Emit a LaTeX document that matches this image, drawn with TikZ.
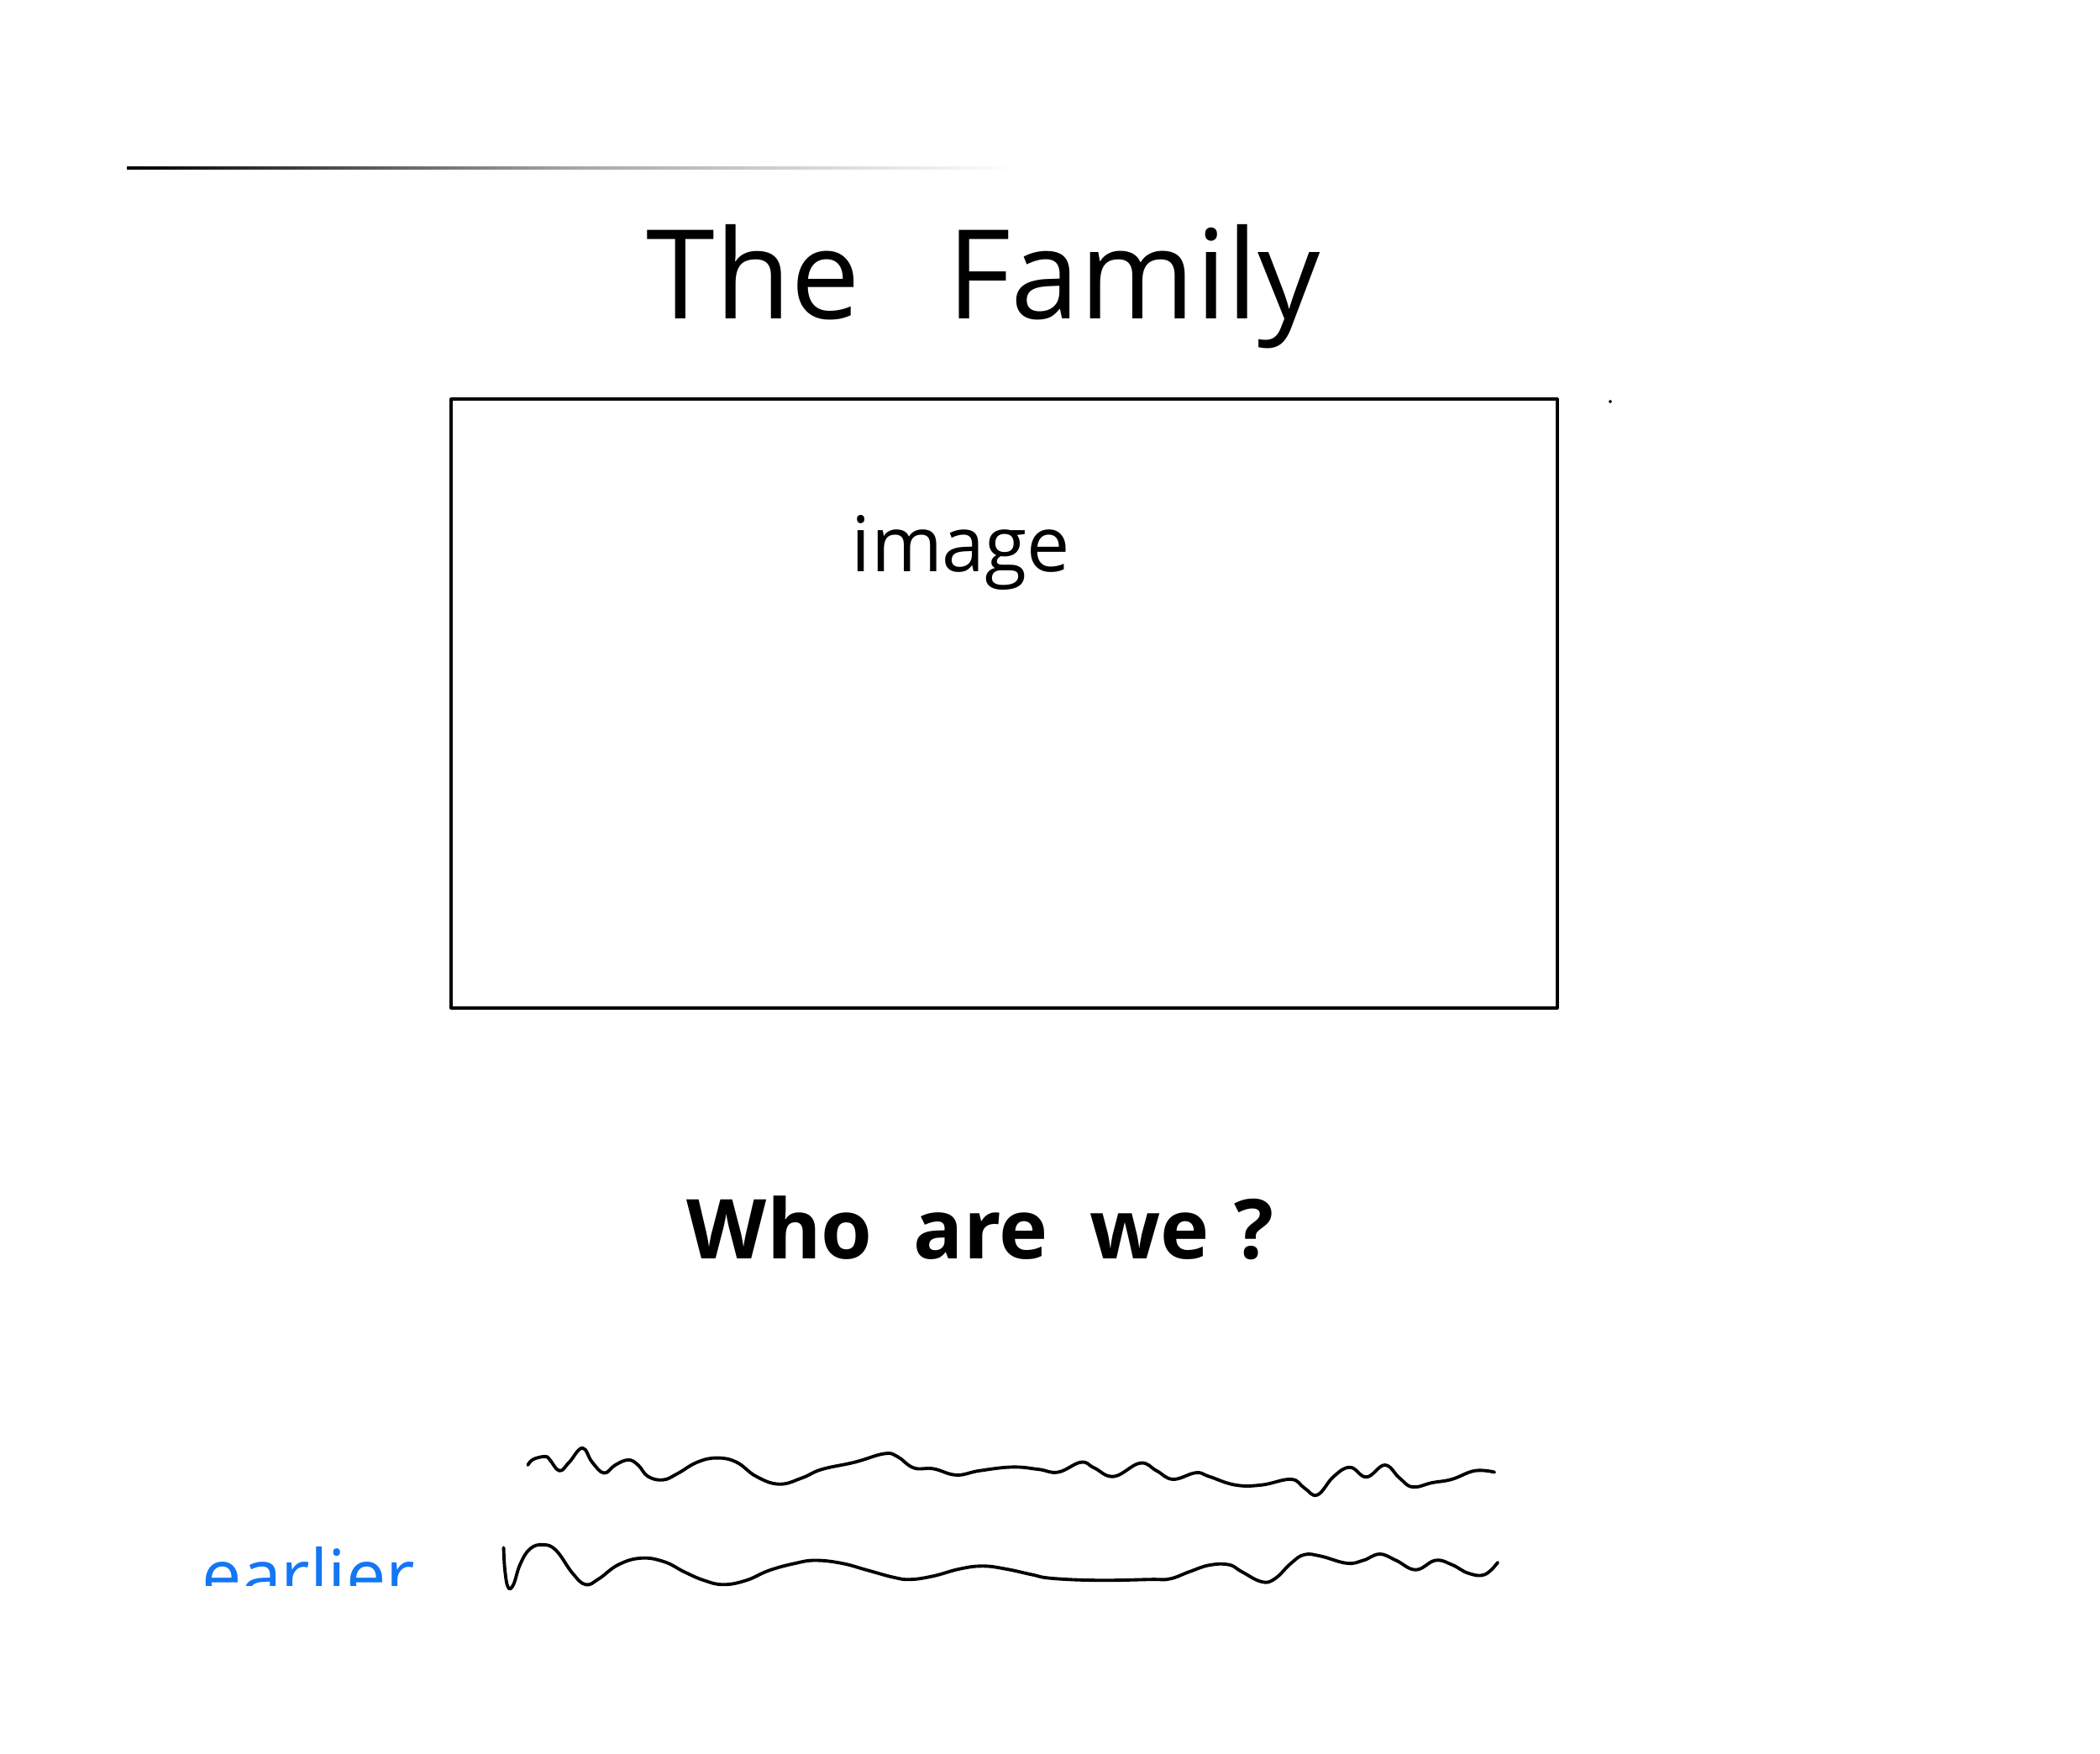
\documentclass[tikz,border=0pt]{standalone}
\usepackage{fontspec}
\setmainfont{Open Sans}
\usepackage{xcolor}
\definecolor{penblue}{RGB}{20,118,245}
\usetikzlibrary{positioning}
\tikzset{
    pen/.style={line width=0.9pt, line cap=round, line join=round},
    wavy/.style={pen, line width=1.1pt, smooth, tension=0.7},
}

\begin{document}
\begin{tikzpicture}
                \useasboundingbox (0,0) rectangle (25,-20.88);

                 % faded rule at the top
                 \shade[left color=black, right color=white, middle color=gray!70] (1.51,-1.99) rectangle (12.12,-2.02);

                 \node[anchor=base, inner sep=0pt] (title) at (11.71,-3.80) {\fontsize{42}{50}\selectfont The\hspace{0.7em}Family};

                 \draw[pen] (5.37,-4.75) rectangle (18.54,-12.00);
                 \node[anchor=base, inner sep=0pt] (img) at (11.44,-6.81) {\fontsize{26}{30}\selectfont image};
                 \filldraw (19.17,-4.78) circle (0.012);

                 \node[anchor=base, inner sep=0pt] (who) at (11.67,-14.98) {\fontsize{28}{34}\selectfont\bfseries Who\hspace{0.5em}are\hspace{0.5em}we\hspace{0.3em}?};

                 % scribbled lines
                 \begin{scope}[shift={(5.80,-17.00)}, x={(0.00782cm,0cm)}, y={(0cm,-0.00338cm)}]
                  \draw[wavy] plot coordinates {(62,130) (70,110) (88,100) (95,110) (110,150) (125,120) (145,70) (160,120) (178,158) (195,130) (215,112) (230,130) (245,170) (268,182) (290,160) (320,120) (350,105) (380,120) (410,170) (445,197) (480,175) (510,145) (560,120) (605,90) (625,100) (650,140) (680,143) (715,165) (750,150) (800,137) (840,145) (870,155) (905,120) (925,140) (955,170) (995,123) (1020,150) (1045,180) (1080,157) (1100,170) (1140,200) (1180,200) (1225,180) (1245,210) (1265,235) (1290,170) (1315,138) (1340,172) (1368,130) (1390,175) (1410,207) (1440,192) (1470,180) (1505,150) (1535,155)};
                  \draw[wavy] plot coordinates {(25,420) (27,500) (32,560) (40,550) (50,480) (65,425) (85,410) (105,430) (130,510) (150,550) (170,530) (200,480) (235,457) (270,470) (300,505) (330,535) (360,550) (395,535) (430,500) (470,475) (500,465) (540,475) (580,500) (620,525) (645,532) (680,520) (720,495) (755,485) (790,495) (830,515) (860,528) (930,535) (1010,532) (1040,530) (1070,505) (1100,482) (1130,480) (1150,505) (1180,540) (1200,530) (1225,475) (1245,445) (1270,450) (1310,475) (1335,465) (1360,443) (1385,465) (1415,498) (1445,465) (1470,480) (1495,510) (1520,515) (1540,472)};
                 \end{scope}

                 % cut-off word in blue
                 \begin{scope}
                  \clip (2.0,-18.20) rectangle (5.2,-18.87);
                  \node[anchor=base west, inner sep=0pt, text=penblue] (early) at (2.40,-19.05) {\fontsize{24}{28}\selectfont earlier};
                 \end{scope}

           \end{tikzpicture}
\end{document}
